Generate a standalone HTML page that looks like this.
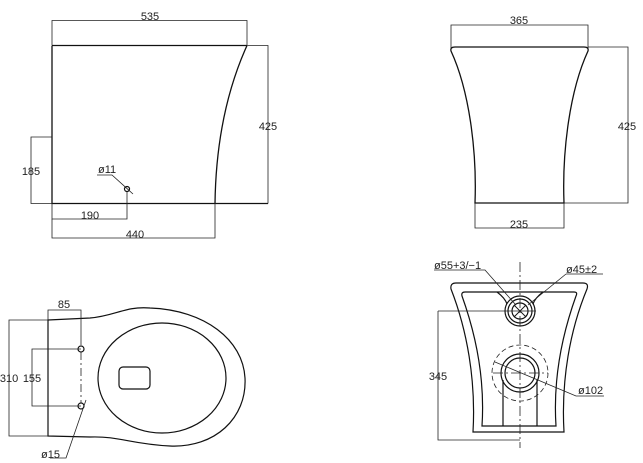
<!DOCTYPE html>
<html><head><meta charset="utf-8"><style>
html,body{margin:0;padding:0;background:#fff;}
svg{display:block;}
text{font-family:"Liberation Sans",sans-serif;font-size:11px;fill:#222;}
</style></head><body>
<svg width="643" height="463" viewBox="0 0 643 463" xmlns="http://www.w3.org/2000/svg">
<g fill="none" stroke="#111" stroke-width="1.3">
<!-- Side view -->
<path d="M52,45.5 H247 M52,45.5 V203.5 H268 M247,45.5 L245,50 C232,80 216,130 215,203.5"/>
</g>
<g fill="none" stroke="#222" stroke-width="0.8">
<path d="M52,45 V20.5 H247 V45"/>
<path d="M247,45.5 H268 V203.5"/>
<path d="M52,137 H31 V203.5 H52"/>
<path d="M52,203 V219 H127 V192"/>
<path d="M52,219 V238 H215 V203"/>
<path d="M97,175 H112 L133,194"/>
</g>
<circle cx="127" cy="189" r="2.5" fill="none" stroke="#111" stroke-width="1.2"/>
<text x="150" y="20" text-anchor="middle">535</text>
<text x="268" y="130" text-anchor="middle">425</text>
<text x="31" y="175" text-anchor="middle">185</text>
<text x="98" y="173" font-size="10">ø11</text>
<text x="90" y="219" text-anchor="middle">190</text>
<text x="135" y="238" text-anchor="middle">440</text>

<!-- Front view -->
<g fill="none" stroke="#111" stroke-width="1.3">
<path d="M455,47 H584 Q589,47 588,51 C570,90 562,150 564,203 H475 C477,150 469,90 451,51 Q450,47 455,47 Z"/>
</g>
<g fill="none" stroke="#222" stroke-width="0.8">
<path d="M451,48 V25 H588 V48"/>
<path d="M588,47 H628 V203 H564"/>
<path d="M475,203 V228 H564 V203"/>
</g>
<text x="519" y="24" text-anchor="middle">365</text>
<text x="627" y="130" text-anchor="middle">425</text>
<text x="519" y="228" text-anchor="middle">235</text>

<!-- Top view -->
<g fill="none" stroke="#111" stroke-width="1.2">
<path d="M48,320 L90,318 C115,316 125,306 150,308 C205,310 243,340 245,378 C247,418 215,448 170,446 C130,444 120,436 90,437 L48,436 Z"/>
<ellipse cx="162" cy="378" rx="64" ry="55"/>
<rect x="119" y="367" width="31" height="22" rx="4"/>
<circle cx="81" cy="349" r="3"/>
<circle cx="81" cy="406" r="3"/>
</g>
<g fill="none" stroke="#222" stroke-width="0.8">
<path d="M48,320 V310 H81 V345"/>
<path d="M48,320 H9 V436 H48"/>
<path d="M81,349 H32 V406 H81"/>
<path d="M81,352 V403" stroke-dasharray="8,3,2,3"/>
<path d="M50,458 H66 L86,400"/>
</g>
<text x="9" y="382" text-anchor="middle">310</text>
<text x="32" y="382" text-anchor="middle">155</text>
<text x="64" y="308" text-anchor="middle">85</text>
<text x="41" y="458" font-size="10">ø15</text>

<!-- Back view -->
<g fill="none" stroke="#111" stroke-width="1.2">
<path d="M456,283 H583 Q589,283 587,289 C570,330 561,380 564,432 H473 C476,380 467,330 451,289 Q450,283 456,283 Z"/>
<path d="M465,292 H574 Q578,292 576,296 C562,335 553,380 556,426 H482 C485,380 476,335 462,296 Q461,292 465,292 Z"/>
<path d="M497,292 Q505,298 507,304 M543,292 Q535,298 533,304"/>
<circle cx="520" cy="311" r="15"/>
<circle cx="520" cy="311" r="12"/>
<circle cx="520" cy="311" r="8"/>
<path d="M514,305 L526,317 M526,305 L514,317" stroke-width="0.9"/>
<circle cx="520" cy="373" r="19"/>
<circle cx="520" cy="373" r="15"/>
<path d="M503,380 V426 M537,380 V426"/>
</g>
<g fill="none" stroke="#222" stroke-width="0.8">
<circle cx="520" cy="373" r="28" stroke-dasharray="5,3"/>
<path d="M520,262 V448" stroke-dasharray="10,3,2,3"/>
<path d="M493,373 H548" stroke-dasharray="10,3,2,3"/>
<path d="M438,311 H536"/>
<path d="M438,311 V440 H520"/>
<path d="M434,270 H485 L515,304"/>
<path d="M566,274 H603 M566,274 L528,305"/>
<path d="M495,362 L576,396 H604"/>
</g>
<text x="434" y="269" font-size="10.5">ø55+3/−1</text>
<text x="566" y="273" font-size="10.5">ø45±2</text>
<text x="578" y="394" font-size="10.5">ø102</text>
<text x="438" y="380" text-anchor="middle">345</text>
</svg>
</body></html>
